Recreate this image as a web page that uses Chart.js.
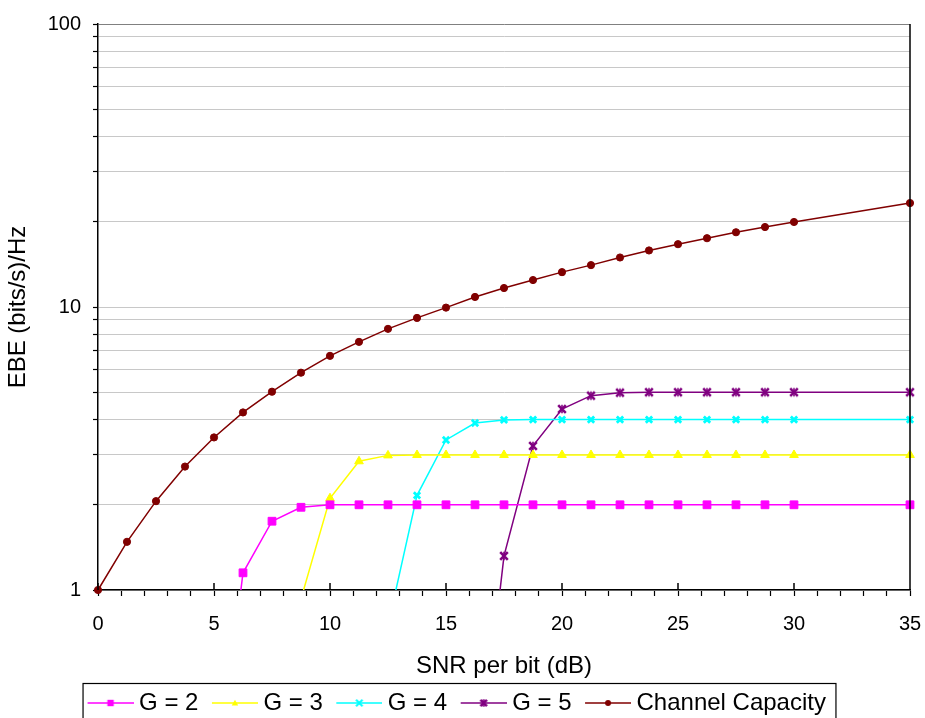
<!DOCTYPE html>
<html>
<head>
<meta charset="utf-8">
<script src="https://cdn.jsdelivr.net/npm/chart.js@4.4.1/dist/chart.umd.min.js"></script>
<style>
  html, body { margin: 0; padding: 0; background: #fff; }
</style>
</head>
<body>
<canvas id="ebeChart" width="925" height="718"></canvas>
<script>
// SNR per bit (dB) sample points
const snrDb = [0, 1.25, 2.5, 3.75, 5, 6.25, 7.5, 8.75, 10, 11.25, 12.5, 13.75, 15,
  16.25, 17.5, 18.75, 20, 21.25, 22.5, 23.75, 25, 26.25, 27.5, 28.75, 30, 35];

// EBE values, (bits/s)/Hz -- null where the curve has not started
const g2 = [null, null, null, null, 0.17, 1.15, 1.75, 1.96, 2, 2, 2, 2, 2,
  2, 2, 2, 2, 2, 2, 2, 2, 2, 2, 2, 2, 2];
const g3 = [null, null, null, null, null, null, null, 0.93, 2.11, 2.85, 2.99, 3, 3,
  3, 3, 3, 3, 3, 3, 3, 3, 3, 3, 3, 3, 3];
const g4 = [null, null, null, null, null, null, null, null, null, null, 0.75, 2.16, 3.39,
  3.89, 3.99, 4, 4, 4, 4, 4, 4, 4, 4, 4, 4, 4];
const g5 = [null, null, null, null, null, null, null, null, null, null, null, null, null,
  0.17, 1.32, 3.23, 4.36, 4.86, 4.98, 5, 5, 5, 5, 5, 5, 5];
const capacity = [1, 1.48, 2.06, 2.73, 3.46, 4.24, 5.02, 5.86, 6.72, 7.53, 8.37, 9.15, 9.95,
  10.85, 11.67, 12.45, 13.28, 14.06, 14.96, 15.84, 16.67, 17.5, 18.37, 19.17, 19.97, 23.3];

const yTicks = [1, 2, 3, 4, 5, 6, 7, 8, 9, 10, 20, 30, 40, 50, 60, 70, 80, 90, 100];
const yLabels = [1, 10, 100];

const FONT = "'Liberation Sans', Arial, sans-serif";

function pts(ys) {
  return snrDb.map((x, i) => ({ x: x, y: ys[i] }));
}

// draw one marker shape (legend swatches and the G = 5 star)
function marker(ctx, kind, x, y, r, color) {
  ctx.fillStyle = color;
  ctx.strokeStyle = color;
  ctx.beginPath();
  if (kind === 'rect') {
    ctx.fillRect(x - r, y - r, 2 * r, 2 * r);
  } else if (kind === 'triangle') {
    ctx.moveTo(x, y - r);
    ctx.lineTo(x + r, y + r * 0.8);
    ctx.lineTo(x - r, y + r * 0.8);
    ctx.closePath();
    ctx.fill();
  } else if (kind === 'cross') {
    ctx.lineWidth = 2;
    ctx.moveTo(x - r, y - r); ctx.lineTo(x + r, y + r);
    ctx.moveTo(x + r, y - r); ctx.lineTo(x - r, y + r);
    ctx.stroke();
  } else if (kind === 'star') {
    ctx.lineWidth = r > 3 ? 2.6 : 2;
    ctx.moveTo(x - r, y - r); ctx.lineTo(x + r, y + r);
    ctx.moveTo(x + r, y - r); ctx.lineTo(x - r, y + r);
    ctx.stroke();
    ctx.beginPath();
    ctx.lineWidth = 1.6;
    ctx.moveTo(x, y - r - 0.5); ctx.lineTo(x, y + r + 0.5);
    ctx.stroke();
  } else {
    ctx.arc(x, y, r, 0, Math.PI * 2);
    ctx.fill();
  }
}

function starImage(color) {
  const c = document.createElement('canvas');
  c.width = 12; c.height = 12;
  marker(c.getContext('2d'), 'star', 6, 6, 3.8, color);
  return c;
}

// legend swatch: line with the marker in its middle (line sits on the right part of the image)
function legendSwatch(kind, color) {
  const c = document.createElement('canvas');
  c.width = 56; c.height = 14;
  const ctx = c.getContext('2d');
  ctx.strokeStyle = color;
  ctx.lineWidth = 1.3;
  ctx.beginPath();
  ctx.moveTo(10, 7); ctx.lineTo(56, 7);
  ctx.stroke();
  marker(ctx, kind, 33, 7, kind === 'circle' ? 3 : 3.2, color);
  return c;
}

const series = [
  { label: 'G = 2', data: g2, color: '#FF00FF', style: 'rect', kind: 'rect', radius: 5.5 },
  { label: 'G = 3', data: g3, color: '#FFFF00', style: 'triangle', kind: 'triangle', radius: 5 },
  { label: 'G = 4', data: g4, color: '#00FFFF', style: 'crossRot', kind: 'cross', radius: 4.5 },
  { label: 'G = 5', data: g5, color: '#800080', style: starImage('#800080'), kind: 'star', radius: 5 },
  { label: 'Channel Capacity', data: capacity, color: '#800000', style: 'circle', kind: 'circle', radius: 3.6 }
];

const datasets = series.map(s => ({
  label: s.label,
  data: pts(s.data),
  borderColor: s.color,
  backgroundColor: s.color,
  borderWidth: 1.5,
  pointStyle: s.style,
  pointRadius: s.radius,
  pointBorderWidth: s.kind === 'cross' ? 2.8 : 1,
  pointBorderColor: s.color,
  pointBackgroundColor: s.color,
  tension: 0,
  clip: s.kind === 'circle' ? { left: 6, top: 0, right: 6, bottom: 6 } : { left: 0, top: 0, right: 6, bottom: 0 },
  swatch: legendSwatch(s.kind, s.color)
}));

const framePlugin = {
  id: 'frame',
  afterDraw(chart) {
    const { ctx, chartArea: a, scales: { x } } = chart;
    ctx.save();
    ctx.strokeStyle = '#000';
    ctx.lineWidth = 1.5;
    ctx.beginPath();
    ctx.moveTo(a.right, a.top);
    ctx.lineTo(a.right, a.bottom);
    // major ticks cross the axis
    for (let v = 0; v <= 35; v += 5) {
      const px = x.getPixelForValue(v);
      ctx.moveTo(px, a.bottom - 7);
      ctx.lineTo(px, a.bottom);
    }
    ctx.stroke();

    // box around the legend
    const boxes = chart.legend.legendHitBoxes;
    if (boxes && boxes.length) {
      const l = Math.min(...boxes.map(b => b.left)) - 1;
      const r = Math.max(...boxes.map(b => b.left + b.width)) + 10;
      const t = chart.legend.top + 2.5;
      ctx.lineWidth = 1.2;
      ctx.strokeRect(l, t, r - l, 60);
    }
    ctx.restore();
  }
};

new Chart(document.getElementById('ebeChart'), {
  type: 'line',
  data: { datasets: datasets },
  options: {
    responsive: false,
    animation: false,
    devicePixelRatio: 1,
    layout: { padding: { left: 0, right: 15, top: 22, bottom: -7 } },
    scales: {
      x: {
        type: 'linear',
        min: 0,
        max: 35,
        ticks: {
          stepSize: 1,
          autoSkip: false,
          maxRotation: 0,
          padding: 16,
          color: '#000',
          font: { family: FONT, size: 20 },
          callback: v => (v % 5 === 0 ? String(v) : '')
        },
        grid: { drawOnChartArea: false, tickColor: '#000', tickLength: 6, tickWidth: 1.2 },
        border: { color: '#000', width: 1.5 },
        title: {
          display: true,
          text: 'SNR per bit (dB)',
          color: '#000',
          font: { family: FONT, size: 24 },
          padding: { top: 0, bottom: 0 }
        },
        afterFit: s => {
          s.height = 91;
          s.paddingLeft = 0;
          s.paddingRight = 0;
        }
      },
      y: {
        type: 'logarithmic',
        min: 1,
        max: 100,
        afterBuildTicks: s => { s.ticks = yTicks.map(v => ({ value: v })); },
        ticks: {
          autoSkip: false,
          padding: 12,
          color: '#000',
          font: { family: FONT, size: 20 },
          callback: v => (yLabels.includes(v) ? String(v) : '')
        },
        grid: {
          color: c => (c.tick && c.tick.value === 100 ? '#808080' : '#c8c8c8'),
          lineWidth: 1,
          tickColor: '#000',
          tickLength: 5,
          tickWidth: 1.2
        },
        border: { color: '#000', width: 1.5 },
        title: {
          display: true,
          text: 'EBE (bits/s)/Hz',
          color: '#000',
          font: { family: FONT, size: 24 },
          padding: { top: 4, bottom: 4 }
        },
        afterFit: s => { s.width = 98; }
      }
    },
    plugins: {
      legend: {
        position: 'bottom',
        labels: {
          usePointStyle: true,
          pointStyleWidth: 43,
          padding: 10,
          color: '#000',
          font: { family: FONT, size: 24 },
          generateLabels: chart =>
            Chart.defaults.plugins.legend.labels.generateLabels(chart).map(item => {
              item.pointStyle = chart.data.datasets[item.datasetIndex].swatch;
              return item;
            })
        }
      },
      tooltip: { enabled: false }
    }
  },
  plugins: [framePlugin]
});
</script>
</body>
</html>
